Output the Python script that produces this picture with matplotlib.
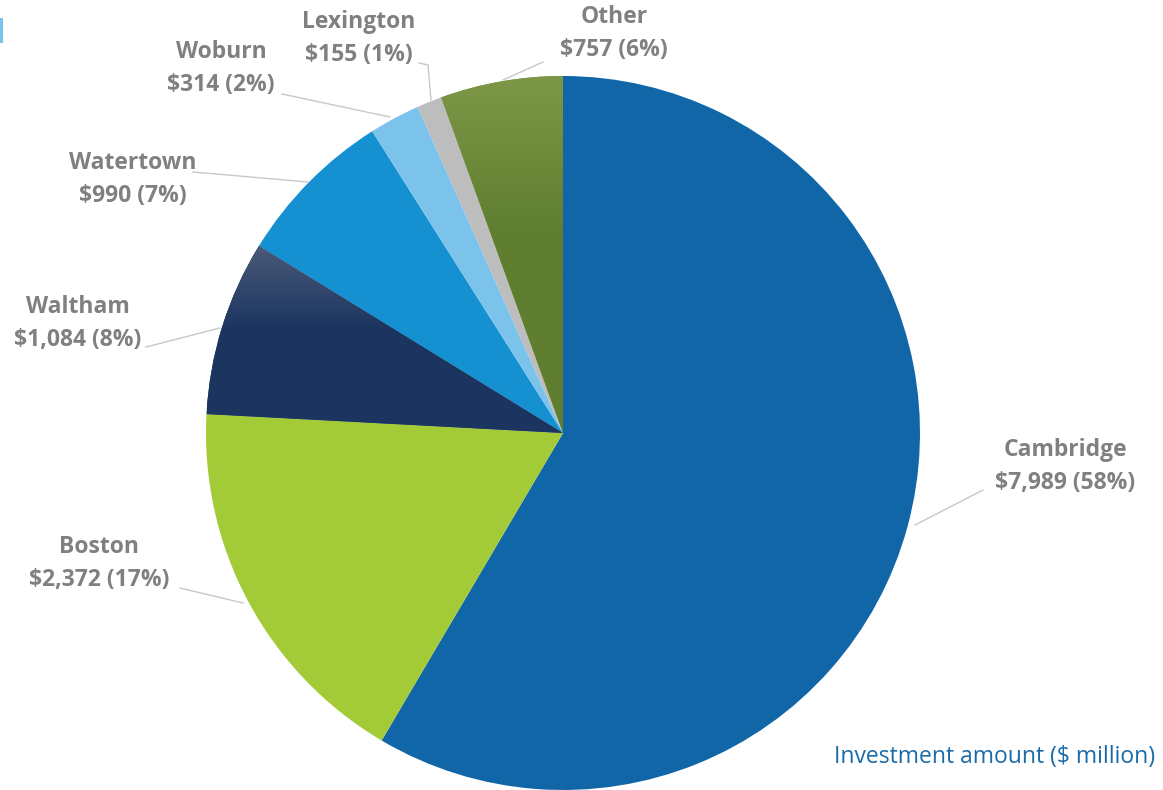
import numpy as np
import matplotlib
matplotlib.use("Agg")
import matplotlib.pyplot as plt
from matplotlib.colors import LinearSegmentedColormap
from matplotlib.patches import Rectangle

# data (investment amount, $ million)
cities = ['Cambridge', 'Boston', 'Waltham', 'Watertown', 'Woburn', 'Lexington', 'Other']
amounts = [7989, 2372, 1084, 990, 314, 155, 757]
shares = [58, 17, 8, 7, 2, 1, 6]

colors = ['#1166a8', '#a3cb38', '#1b3560', '#1590d0', '#7cc3ec', '#bdbdbd', '#6b8a3a']
# gradient fills for a couple of slices (top colour, bottom colour)
grads = {'Waltham': ('#4a5a78', '#1b3560'), 'Other': ('#7d9748', '#5f7e2f')}

# label placement in pixels (centre x, first-line y) and leader paths
label_pos = {
    'Cambridge': (1065, 450), 'Boston': (99, 547), 'Waltham': (78, 307),
    'Watertown': (133, 163), 'Woburn': (221, 52), 'Lexington': (359, 22),
    'Other': (614, 17),
}
leaders = {
    'Cambridge': [(983, 490), (915, 525)],
    'Boston': [(180, 588), (243, 603)],
    'Waltham': [(146, 347), (220, 328)],
    'Watertown': [(193, 172), (308, 182)],
    'Woburn': [(282, 94), (390, 117)],
    'Lexington': [(419, 63), (428, 65), (431, 100)],
    'Other': [(543, 62), (503, 80)],
}

W, H = 1163, 790
FS = 16.5
fig = plt.figure(figsize=(W / 100, H / 100), dpi=100)
ax = fig.add_axes([0, 0, 1, 1])

cx, cy, r = 563, H - 433, 357
wedges, _ = ax.pie(amounts, colors=colors, startangle=90, counterclock=False,
                   center=(cx, cy), radius=r, frame=True,
                   wedgeprops=dict(linewidth=0))

for w, name in zip(wedges, cities):
    if name in grads:
        top, bot = grads[name]
        cmap = LinearSegmentedColormap.from_list(name, [bot, top])
        x0, y0, x1, y1 = w.get_path().get_extents(w.get_patch_transform()).bounds
        grad = np.linspace(0, 1, 256).reshape(-1, 1)
        # focus the light part near the outer edge
        grad = np.clip((grad - 0.55) / 0.45, 0, 1)
        im = ax.imshow(grad, cmap=cmap, origin='lower', aspect='auto',
                       extent=(x0, x0 + x1, y0, y0 + y1), zorder=w.get_zorder() + 0.1)
        im.set_clip_path(w)

for name, amt, pct in zip(cities, amounts, shares):
    x, y = label_pos[name]
    ax.text(x, H - y, name, ha='center', va='center', fontsize=FS,
            fontweight='bold', color='#808080', family='Open Sans')
    ax.text(x, H - y - 33, f'${amt:,} ({pct}%)', ha='center', va='center',
            fontsize=FS, fontweight='bold', color='#808080', family='Open Sans')
    pts = leaders[name]
    ax.plot([p[0] for p in pts], [H - p[1] for p in pts], color='#c8c8c8', lw=1)

ax.text(1155, H - 757, 'Investment amount ($ million)', ha='right', va='center',
        fontsize=FS, color='#1b6ba8', family='Open Sans')

# little cut-off marker at top-left
ax.add_patch(Rectangle((0, H - 43), 3, 25, color='#7cc3ec', lw=0))

ax.set_xlim(0, W)
ax.set_ylim(0, H)
ax.set_aspect('equal')
ax.axis('off')

fig.savefig('out.png', dpi=100)
